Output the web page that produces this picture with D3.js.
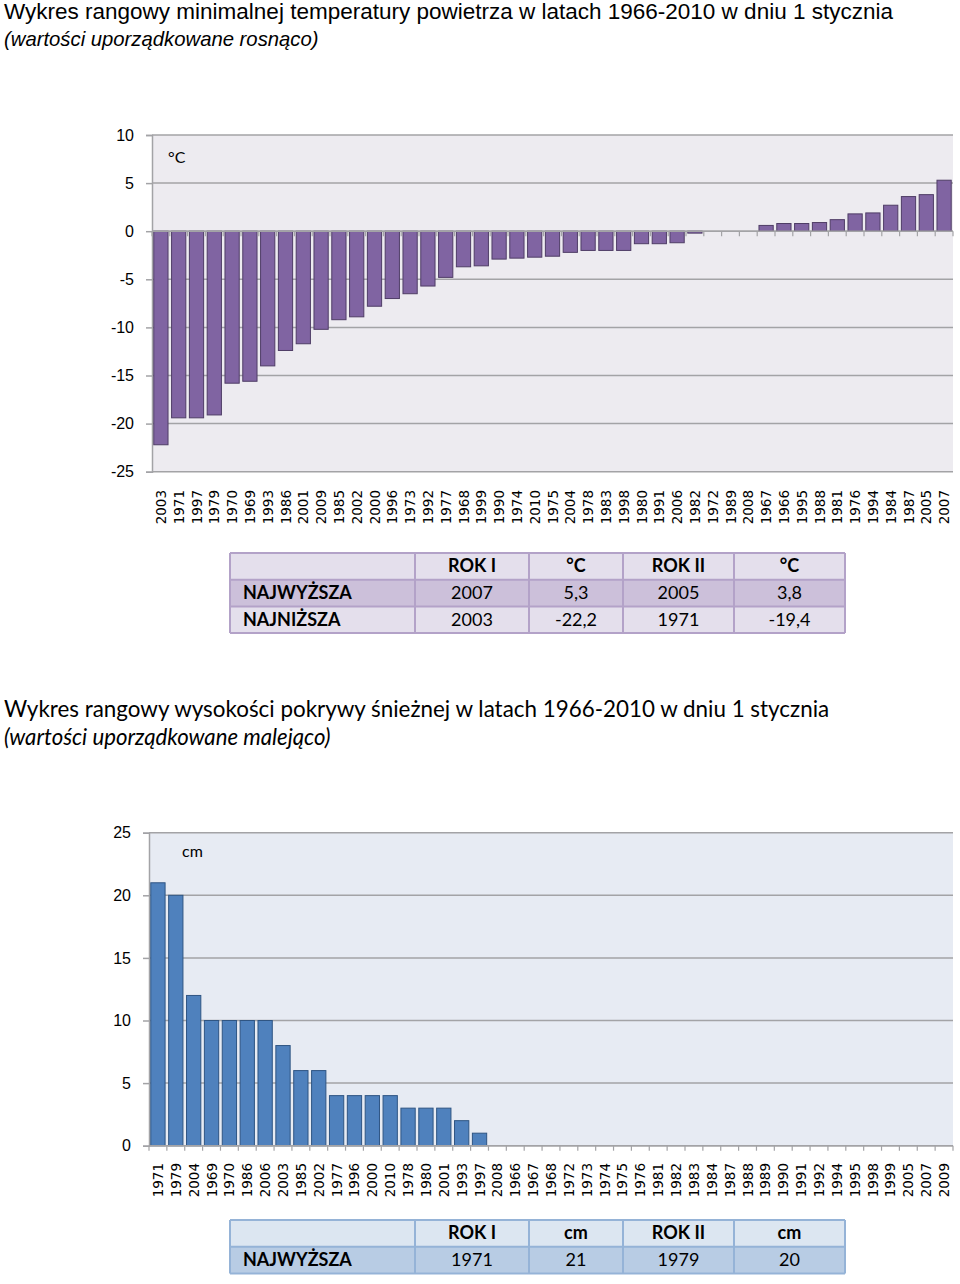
<!DOCTYPE html>
<html>
<head>
<meta charset="utf-8">
<script src="https://cdn.jsdelivr.net/npm/d3@7"></script>
<style>
  html, body { margin: 0; padding: 0; background: #fff; }
  svg { display: block; }
</style>
</head>
<body>
<svg id="chart" width="960" height="1284"></svg>
<script>
// ---------- DATA ----------
const tempYears = ["2003","1971","1997","1979","1970","1969","1993","1986","2001","2009","1985","2002","2000","1996","1973","1992","1977","1968","1999","1990","1974","2010","1975","2004","1978","1983","1998","1980","1991","2006","1982","1972","1989","2008","1967","1966","1995","1988","1981","1976","1994","1984","1987","2005","2007"];
const tempValues = [-22.2,-19.4,-19.4,-19.1,-15.8,-15.6,-14.0,-12.4,-11.7,-10.2,-9.2,-8.9,-7.8,-7.0,-6.5,-5.7,-4.8,-3.7,-3.6,-2.9,-2.8,-2.7,-2.6,-2.2,-2.0,-2.0,-2.0,-1.3,-1.3,-1.2,-0.2,0,0,0,0.6,0.8,0.8,0.9,1.2,1.8,1.9,2.7,3.6,3.8,5.3];
const tempTicks = [10,5,0,-5,-10,-15,-20,-25];

const snowYears = ["1971","1979","2004","1969","1970","1986","2006","2003","1985","2002","1977","1996","2000","2010","1978","1980","2001","1993","1997","2008","1966","1967","1968","1972","1973","1974","1975","1976","1981","1982","1983","1984","1987","1988","1989","1990","1991","1992","1994","1995","1998","1999","2005","2007","2009"];
const snowValues = [21,20,12,10,10,10,10,8,6,6,4,4,4,4,3,3,3,2,1,0,0,0,0,0,0,0,0,0,0,0,0,0,0,0,0,0,0,0,0,0,0,0,0,0,0];
const snowTicks = [0,5,10,15,20,25];

const table1Header = ["", "ROK I", "°C", "ROK II", "°C"];
const table1Rows = [
  ["NAJWYŻSZA", "2007", "5,3", "2005", "3,8"],
  ["NAJNIŻSZA", "2003", "-22,2", "1971", "-19,4"]
];
const table2Header = ["", "ROK I", "cm", "ROK II", "cm"];
const table2Rows = [
  ["NAJWYŻSZA", "1971", "21", "1979", "20"]
];

const title1 = "Wykres rangowy minimalnej temperatury powietrza w latach 1966-2010 w dniu 1 stycznia";
const sub1 = "(wartości uporządkowane rosnąco)";
const title2 = "Wykres rangowy wysokości pokrywy śnieżnej w latach 1966-2010 w dniu 1 stycznia";
const sub2 = "(wartości uporządkowane malejąco)";

// ---------- DRAW ----------
const svg = d3.select("#chart");
const tickFont = "'Liberation Sans', Arial, sans-serif";
const labFont = "'DejaVu Sans', Verdana, sans-serif";
const tabFont = "Lato, 'Liberation Sans', sans-serif";

// titles
svg.append("text").attr("x", 4).attr("y", 19).attr("font-family", tickFont).attr("font-size", 22.5).attr("fill", "#000").text(title1);
svg.append("text").attr("x", 4).attr("y", 46).attr("font-family", tickFont).attr("font-size", 20.3).attr("font-style", "italic").attr("fill", "#000").text(sub1);
svg.append("text").attr("x", 4).attr("y", 717).attr("font-family", tabFont).attr("font-size", 22.4).attr("fill", "#000").text(title2);
svg.append("text").attr("x", 4).attr("y", 745).attr("font-family", tabFont).attr("font-size", 22.2).attr("font-style", "italic").attr("fill", "#000").text(sub2);

function barChart(opts) {
  const g = svg.append("g");
  const x = d3.scaleBand().domain(opts.cats).range([opts.left, opts.right]).paddingInner(0.2).paddingOuter(0.1);
  const y = d3.scaleLinear().domain(opts.domain).range([opts.bottom, opts.top]);

  g.append("rect").attr("x", opts.left).attr("y", opts.top)
    .attr("width", opts.right - opts.left).attr("height", opts.bottom - opts.top)
    .attr("fill", opts.bg);

  // gridlines
  g.selectAll("line.grid").data(opts.ticks).join("line")
    .attr("x1", opts.left).attr("x2", opts.right)
    .attr("y1", d => y(d)).attr("y2", d => y(d))
    .attr("stroke", "#a3a3a6").attr("stroke-width", 1.5);

  // y axis
  const yAxis = d3.axisLeft(y).tickValues(opts.ticks).tickSize(6).tickPadding(12).tickFormat(d => String(d));
  const ya = g.append("g").attr("transform", `translate(${opts.left},0)`).call(yAxis);
  ya.select(".domain").attr("stroke", "#a3a3a6").attr("stroke-width", 1.5);
  ya.selectAll(".tick line").attr("stroke", "#a3a3a6").attr("stroke-width", 1.5);
  ya.selectAll(".tick text").attr("font-family", tickFont).attr("font-size", 16).attr("fill", "#000");

  // bars
  g.selectAll("rect.bar").data(opts.values).join("rect")
    .attr("class", "bar")
    .attr("x", (d, i) => x(opts.cats[i]))
    .attr("width", x.bandwidth())
    .attr("y", d => Math.min(y(d), y(0)))
    .attr("height", d => Math.abs(y(d) - y(0)))
    .attr("fill", opts.fill).attr("stroke", opts.stroke).attr("stroke-width", 1)
    .attr("display", d => d === 0 ? "none" : null);

  // x axis at zero with tick marks at band boundaries
  const zy = y(0);
  g.append("line").attr("x1", opts.left).attr("x2", opts.right).attr("y1", zy).attr("y2", zy)
    .attr("stroke", "#a3a3a6").attr("stroke-width", 1.5);
  const bounds = d3.range(opts.cats.length + 1).map(i => opts.left + i * x.step());
  g.selectAll("line.xt").data(bounds).join("line")
    .attr("x1", d => d).attr("x2", d => d).attr("y1", zy).attr("y2", zy + 5)
    .attr("stroke", "#a3a3a6").attr("stroke-width", 1.2);

  // category labels
  g.selectAll("text.cat").data(opts.cats).join("text")
    .attr("transform", d => `translate(${x(d) + x.bandwidth() / 2 + 5},${opts.labelY}) rotate(-90)`)
    .attr("text-anchor", "end")
    .attr("font-family", labFont).attr("font-size", 13.5).attr("fill", "#000")
    .text(d => d);

  // unit
  g.append("text").attr("x", opts.unitX).attr("y", opts.unitY)
    .attr("font-family", tabFont).attr("font-size", 16).attr("fill", "#000").text(opts.unit);
}

barChart({
  cats: tempYears, values: tempValues, ticks: tempTicks, domain: [-25, 10],
  left: 152, right: 953, top: 135, bottom: 471.7,
  bg: "#edebf0", fill: "#8064a2", stroke: "#4f3d66",
  labelY: 490, unit: "°C", unitX: 168, unitY: 163
});

barChart({
  cats: snowYears, values: snowValues, ticks: snowTicks, domain: [0, 25],
  left: 149, right: 953, top: 832.7, bottom: 1145.7,
  bg: "#e7ebf3", fill: "#4f81bd", stroke: "#2f5583",
  labelY: 1163, unit: "cm", unitX: 182, unitY: 857
});

function table(header, rows, top, colors) {
  const cols = [230, 415, 529, 623, 734, 845];
  const rowH = 26.7;
  const all = [header].concat(rows);
  const g = svg.append("g");
  all.forEach((row, r) => {
    const y0 = top + r * rowH;
    g.append("rect").attr("x", cols[0]).attr("y", y0).attr("width", cols[5] - cols[0]).attr("height", rowH)
      .attr("fill", colors.rows[r]);
    row.forEach((cell, c) => {
      const bold = r === 0 || c === 0;
      g.append("text")
        .attr("x", c === 0 ? cols[0] + 13 : (cols[c] + cols[c + 1]) / 2)
        .attr("y", y0 + rowH / 2 + 6)
        .attr("text-anchor", c === 0 ? "start" : "middle")
        .attr("font-family", tabFont).attr("font-size", 18)
        .attr("font-weight", bold ? "bold" : "normal")
        .attr("fill", "#000").text(cell);
    });
  });
  const bottom = top + all.length * rowH;
  cols.forEach(cx => g.append("line").attr("x1", cx).attr("x2", cx).attr("y1", top).attr("y2", bottom)
    .attr("stroke", colors.border).attr("stroke-width", 2));
  d3.range(all.length + 1).forEach(r => g.append("line").attr("x1", cols[0]).attr("x2", cols[5])
    .attr("y1", top + r * rowH).attr("y2", top + r * rowH).attr("stroke", colors.border).attr("stroke-width", 2));
}

table(table1Header, table1Rows, 553, { rows: ["#e4dfec", "#ccc0da", "#e4dfec"], border: "#b3a2c8" });
table(table2Header, table2Rows, 1220, { rows: ["#dce6f1", "#b8cce4"], border: "#95b3d7" });
</script>
</body>
</html>
